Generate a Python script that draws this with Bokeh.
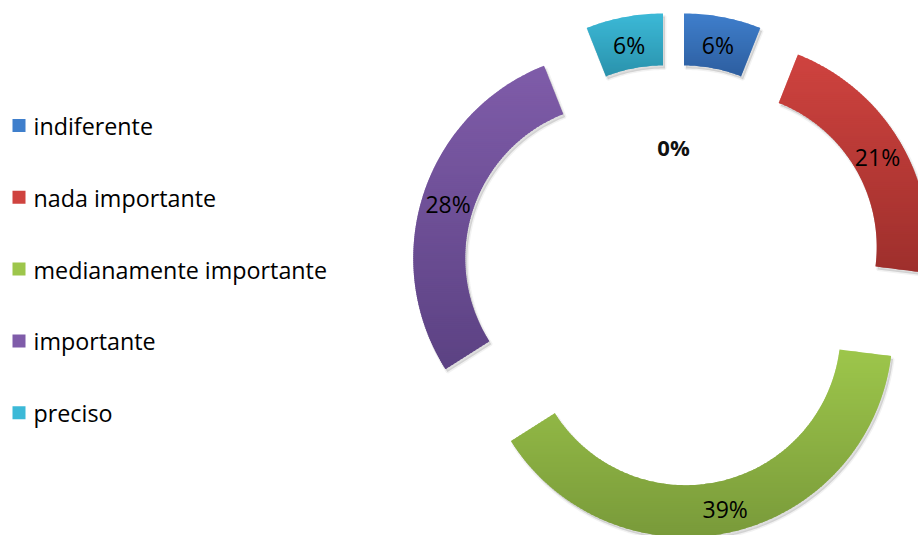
import math
from bokeh.plotting import figure
from bokeh.models import Range1d
from bokeh.core.properties import value
from bokeh.embed import file_html
from bokeh.resources import INLINE

# ---- data ----
categories = ["indiferente", "nada importante", "medianamente importante", "importante", "preciso"]
percentages = [6, 21, 39, 28, 6]
pct_labels = ["6%", "21%", "39%", "28%", "6%"]
top_colors = ["#3F7FCC", "#CF433F", "#9DC64B", "#7F5CA9", "#3CB9D7"]
bottom_colors = ["#2D5E9F", "#9E2F2C", "#799A3A", "#5C4283", "#2A92AC"]
zero_label = "0%"

# ---- layout ----
W, H = 918, 535
CX, CY = 673, 260
R_OUT, R_IN = 207, 155
EXPLODE = 56
FONT = "Open Sans"

p = figure(width=W, height=H, x_range=Range1d(0, W), y_range=Range1d(0, H),
           output_backend="svg", toolbar_location=None, min_border=0,
           x_axis_location=None, y_axis_location=None)
p.grid.visible = False
p.outline_line_color = None
p.background_fill_color = "white"
p.border_fill_color = "white"


def hex2rgb(h):
    h = h.lstrip("#")
    return tuple(int(h[i:i + 2], 16) for i in (0, 2, 4))


def mix(c1, c2, t):
    a, b = hex2rgb(c1), hex2rgb(c2)
    return "#%02x%02x%02x" % tuple(int(round(a[i] + (b[i] - a[i]) * t)) for i in range(3))


def sector(cx, cy, a1, a2, ro, ri):
    steps = max(8, int(abs(a2 - a1) / 0.8))
    pts = []
    for i in range(steps + 1):
        a = math.radians(a1 + (a2 - a1) * i / steps)
        pts.append((cx + ro * math.sin(a), cy + ro * math.cos(a)))
    for i in range(steps + 1):
        a = math.radians(a2 - (a2 - a1) * i / steps)
        pts.append((cx + ri * math.sin(a), cy + ri * math.cos(a)))
    return pts


def inter(p1, p2, y0):
    t = (y0 - p1[1]) / (p2[1] - p1[1])
    return (p1[0] + (p2[0] - p1[0]) * t, y0)


def clip(poly, y0, keep_above):
    out = []
    n = len(poly)
    for i in range(n):
        cur, prev = poly[i], poly[i - 1]
        cin = cur[1] >= y0 if keep_above else cur[1] <= y0
        pin = prev[1] >= y0 if keep_above else prev[1] <= y0
        if cin:
            if not pin:
                out.append(inter(prev, cur, y0))
            out.append(cur)
        elif pin:
            out.append(inter(prev, cur, y0))
    return out


total = float(sum(percentages))
start = 0.0
shadow_xs, shadow_ys = [], []
band_xs, band_ys, band_cols = [], [], []
lab_x, lab_y = [], []
for i, v in enumerate(percentages):
    a1 = start
    a2 = start + 360.0 * v / total
    start = a2
    mid = math.radians((a1 + a2) / 2)
    ox = CX + EXPLODE * math.sin(mid)
    oy = CY + EXPLODE * math.cos(mid)
    poly = sector(ox, oy, a1, a2, R_OUT, R_IN)
    shadow_xs.append([q[0] + 2 for q in poly])
    shadow_ys.append([q[1] - 3 for q in poly])
    ys = [q[1] for q in poly]
    ytop, ybot = max(ys), min(ys)
    step = 2.0
    y = ytop
    while y > ybot:
        lo = y - step
        piece = clip(clip(poly, y + 0.01, False), lo - 0.9, True)
        if len(piece) >= 3:
            t = (ytop - (y - step / 2)) / (ytop - ybot)
            t = min(max(t, 0), 1)
            band_xs.append([q[0] for q in piece])
            band_ys.append([q[1] for q in piece])
            band_cols.append(mix(top_colors[i], bottom_colors[i], t))
        y = lo
    rm = (R_OUT + R_IN) / 2
    lab_x.append(ox + rm * math.sin(mid))
    lab_y.append(oy + rm * math.cos(mid) - 2)

# soft shadow
p.patches(xs=shadow_xs, ys=shadow_ys, fill_color="#000000", fill_alpha=0.13, line_color="#000000",
          line_alpha=0.05, line_width=3)
# gradient bands
p.patches(xs=band_xs, ys=band_ys, fill_color=band_cols, line_color=None)

# percentage labels
p.text(x=lab_x, y=lab_y, text=pct_labels, text_align="center", text_baseline="middle",
       text_font=value(FONT), text_font_size="23px", text_color="#000000")

# zero label of empty inner series
p.text(x=[CX], y=[CY + R_IN - 26], text=[zero_label], text_align="center", text_baseline="middle",
       text_font=value(FONT), text_font_size="22px", text_font_style="bold", text_color="#111111")

# legend
LEG_TOP = 125
LEG_STEP = 71.8
leg_y = [H - (LEG_TOP + LEG_STEP * i) for i in range(len(categories))]
p.rect(x=[18.5] * len(categories), y=leg_y, width=13, height=13, fill_color=top_colors,
       line_color=None)
p.text(x=[33] * len(categories), y=[yy - 0.5 for yy in leg_y], text=categories, text_align="left",
       text_baseline="middle", text_font=value(FONT), text_font_size="23.3px", text_color="#000000")

open("out.html", "w").write(file_html(p, INLINE))
